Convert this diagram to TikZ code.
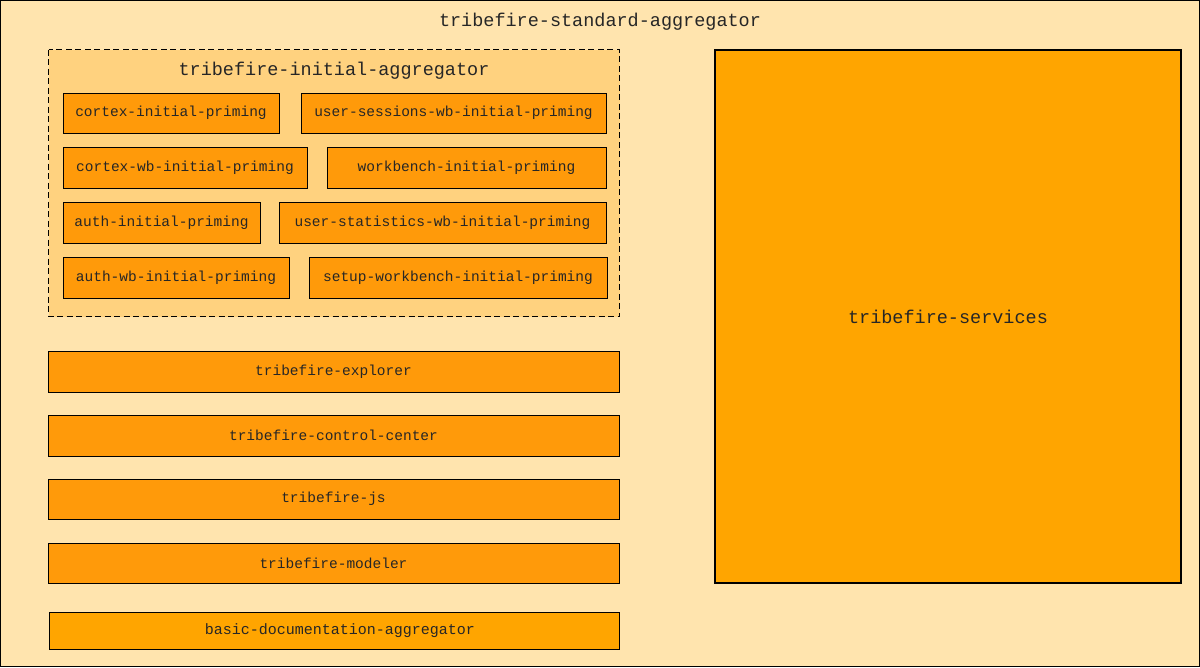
\documentclass[tikz,border=0pt]{standalone}
\usepackage{fontspec}
\setmainfont{Liberation Mono}
\definecolor{bgc}{HTML}{FFE4AE}
\definecolor{aggc}{HTML}{FFD27F}
\definecolor{boxc}{HTML}{FF9A0A}
\definecolor{orc}{HTML}{FFA500}
\tikzset{
  pbox/.style={draw=black, line width=1pt, fill=boxc, inner sep=0pt, font=\fontsize{14.5}{16}\selectfont, text=black!85},
  wbox/.style={pbox, minimum width=571pt, minimum height=41pt},
  bigtitle/.style={font=\fontsize{18.5}{20}\selectfont, text=black!85, inner sep=0pt},
}
\begin{document}
\begin{tikzpicture}[x=1pt,y=-1pt]
\useasboundingbox (0,0) rectangle (1200,667);
\draw[fill=bgc, line width=1pt] (0.5,0.5) rectangle (1199.5,666.5);
\node[bigtitle] (std) at (600,22) {tribefire-standard-aggregator};
% initial aggregator
\draw[fill=aggc, dash pattern=on 6pt off 3.5pt, line width=1pt] (48.5,49.5) rectangle (619.5,316.5);
\node[bigtitle] (ini) at (334,71) {tribefire-initial-aggregator};
\node[pbox, minimum width=216pt, minimum height=40pt] (a1) at (171,113) {cortex-initial-priming};
\node[pbox, minimum width=305pt, minimum height=40pt] (a2) at (453.5,113) {user-sessions-wb-initial-priming};
\node[pbox, minimum width=244pt, minimum height=41pt] (b1) at (185,167.5) {cortex-wb-initial-priming};
\node[pbox, minimum width=279pt, minimum height=41pt] (b2) at (466.5,167.5) {workbench-initial-priming};
\node[pbox, minimum width=197pt, minimum height=41pt] (c1) at (161.5,222.5) {auth-initial-priming};
\node[pbox, minimum width=327pt, minimum height=41pt] (c2) at (442.5,222.5) {user-statistics-wb-initial-priming};
\node[pbox, minimum width=226pt, minimum height=41pt] (d1) at (176,277.5) {auth-wb-initial-priming};
\node[pbox, minimum width=298pt, minimum height=41pt] (d2) at (458,277.5) {setup-workbench-initial-priming};
% wide boxes
\node[wbox] (exp) at (333.5,371.5) {tribefire-explorer};
\node[wbox] (cc) at (333.5,435.5) {tribefire-control-center};
\node[wbox, minimum height=40pt] (js) at (333.5,499) {tribefire-js};
\node[wbox, minimum height=40pt] (mod) at (333.5,563) {tribefire-modeler};
\node[pbox, fill=orc, minimum width=570pt, minimum height=37pt, font=\fontsize{15}{16}\selectfont] (doc) at (334,630.5) {\hspace{12pt}basic-documentation-aggregator};
% services
\node[draw=black, line width=2pt, fill=orc, minimum width=466pt, minimum height=533pt, inner sep=0pt, font=\fontsize{18.5}{20}\selectfont, text=black!85] (svc) at (948,316.5) {tribefire-services};
\end{tikzpicture}
\end{document}
